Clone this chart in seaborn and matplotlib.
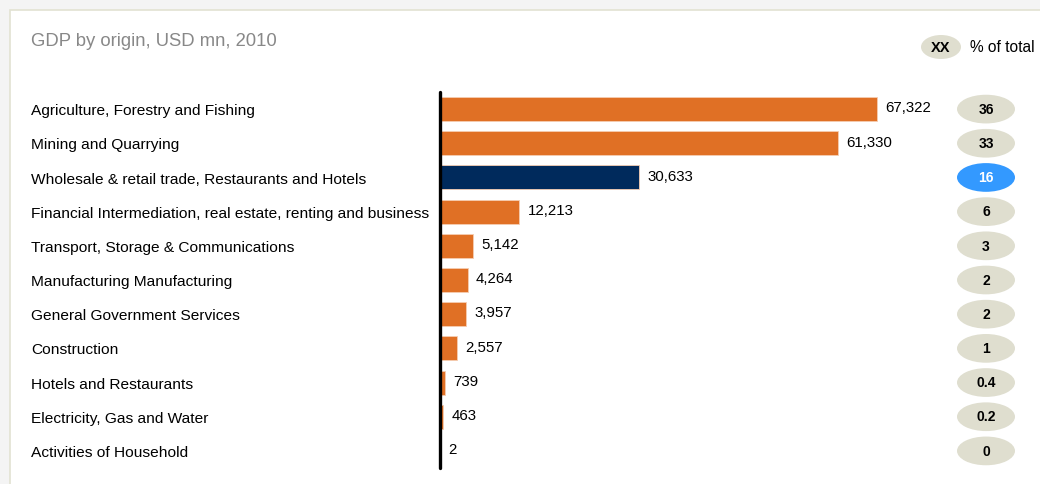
import matplotlib
matplotlib.use("Agg")
import matplotlib.pyplot as plt
import matplotlib.transforms as mtransforms
from matplotlib.patches import Ellipse, Rectangle
import seaborn as sns
import pandas as pd

categories = [
    "Agriculture, Forestry and Fishing",
    "Mining and Quarrying",
    "Wholesale & retail trade, Restaurants and Hotels",
    "Financial Intermediation, real estate, renting and business",
    "Transport, Storage & Communications",
    "Manufacturing Manufacturing",
    "General Government Services",
    "Construction",
    "Hotels and Restaurants",
    "Electricity, Gas and Water",
    "Activities of Household",
]
values = [67322, 61330, 30633, 12213, 5142, 4264, 3957, 2557, 739, 463, 2]
pct_labels = ["36", "33", "16", "6", "3", "2", "2", "1", "0.4", "0.2", "0"]
highlight = [False, False, True, False, False, False, False, False, False, False, False]
title = "GDP by origin, USD mn, 2010"
legend_key = "XX"
legend_text = "% of total"

ORANGE = "#E07025"
NAVY = "#002A5C"
PILL = "#DFDECF"
PILL_HL = "#3399FF"

sns.set_theme(style="white")
plt.rcParams["font.family"] = ["Liberation Sans", "DejaVu Sans"]

W, H = 1040, 484
fig = plt.figure(figsize=(W / 100, H / 100), dpi=100)
fig.patch.set_facecolor("#F4F4F4")
fig.patches.append(Rectangle((10 / W, -0.1), 1.1, 1 - 10 / H + 0.1, transform=fig.transFigure,
                             facecolor="white", edgecolor="#E2E2D2", linewidth=1.2, zorder=-5))

ax = fig.add_axes([440 / W, 1 - 468 / H, 600 / W, 376 / H])
ax.set_facecolor("none")
ax.set_zorder(2)

df = pd.DataFrame({"cat": categories, "val": values,
                   "grp": ["hl" if h else "n" for h in highlight]})
sns.barplot(data=df, y="cat", x="val", hue="grp", palette={"n": ORANGE, "hl": NAVY},
            orient="h", width=0.7, dodge=False, legend=False, ax=ax, saturation=1,
            edgecolor="#F5CDB2", linewidth=0.6)

ax.set_xlim(0, 67322 * 600 / 437)
ax.set_ylim(10.5, -0.5)
ax.set_xlabel("")
ax.set_ylabel("")
ax.set_xticks([])
ax.set_yticks([])
for s in ["top", "right", "bottom"]:
    ax.spines[s].set_visible(False)
ax.spines["left"].set_color("black")
ax.spines["left"].set_linewidth(2.4)
ax.spines["left"].set_capstyle("round")

blend = mtransforms.blended_transform_factory(fig.transFigure, ax.transData)
px = 1 / W
for i, (c, v) in enumerate(zip(categories, values)):
    ax.annotate(c, (31 * px, i), xycoords=blend, xytext=(0, -1.5), textcoords="offset points",
                ha="left", va="center", fontsize=11.15, color="black", annotation_clip=False)
    ax.annotate(f"{v:,}", (v, i), xytext=(6, 0.5), textcoords="offset points",
                ha="left", va="center", fontsize=10.8, color="black", annotation_clip=False)
    e = Ellipse((986 * px, i), 58 * px, 0.84, transform=blend,
                facecolor=PILL_HL if highlight[i] else PILL, edgecolor="none", clip_on=False)
    ax.add_patch(e)
    ax.annotate(pct_labels[i], (986 * px, i), xycoords=blend, xytext=(0, -0.5),
                textcoords="offset points", ha="center", va="center",
                fontsize=10, fontweight="bold", color="white" if highlight[i] else "black",
                annotation_clip=False)

fig.text(31 * px, 1 - 41 / H, title, ha="left", va="center", fontsize=13.3, color="#888888")
fig.patches.append(Ellipse((941 * px, 1 - 47 / H), 40 * px, 24 / H, transform=fig.transFigure,
                           facecolor=PILL, edgecolor="none", zorder=1))
fig.text(941 * px, 1 - 48 / H, legend_key, ha="center", va="center", fontsize=10.5,
         fontweight="bold", color="black", zorder=3)
fig.text(970 * px, 1 - 47 / H, legend_text, ha="left", va="center", fontsize=11.2,
         color="black", zorder=3)

fig.savefig("out.png", dpi=100)
